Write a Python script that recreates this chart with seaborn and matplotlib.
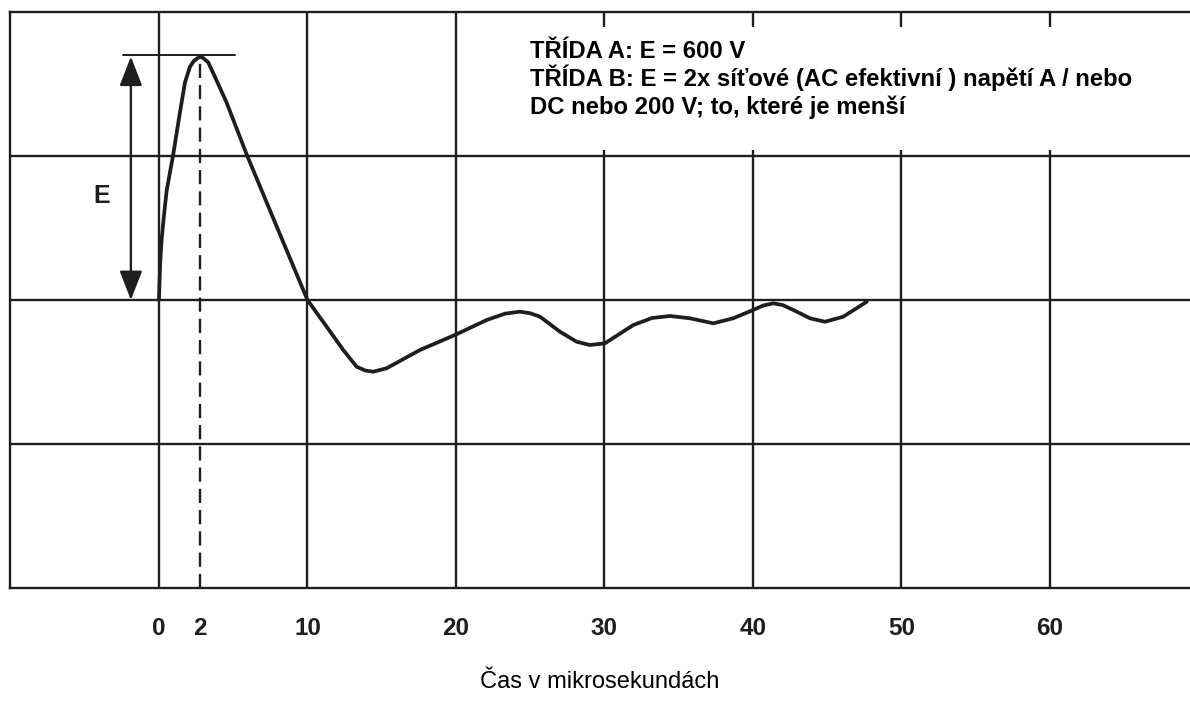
import numpy as np
import pandas as pd
import matplotlib
matplotlib.use("Agg")
import matplotlib.pyplot as plt
import seaborn as sns
from matplotlib.patches import Rectangle

# Pulse shape (time in microseconds, amplitude in grid units)
time_us = [0.0, 0.08, 0.18, 0.35, 0.52, 0.96, 1.41, 1.75, 2.09, 2.35, 2.54, 2.76, 2.98,
           3.32, 3.77, 4.56, 5.91, 7.93, 10.0, 11.29, 12.41, 13.31, 13.9, 14.43, 15.33,
           17.58, 19.93, 22.07, 23.3, 24.31, 25.0, 25.66, 27.0, 28.13, 29.02, 30.03,
           31.94, 33.2, 34.41, 35.76, 37.33, 38.67, 40.02, 40.7, 41.37, 42.0, 42.71,
           43.84, 44.85, 46.08, 47.66]
amplitude = [0.0, 0.25, 0.42, 0.60, 0.76, 1.01, 1.30, 1.51, 1.62, 1.66, 1.675, 1.69, 1.68,
             1.65, 1.55, 1.37, 1.01, 0.51, 0.0, -0.185, -0.347, -0.463, -0.49, -0.498, -0.474,
             -0.347, -0.243, -0.139, -0.095, -0.081, -0.092, -0.116, -0.22, -0.29, -0.3125, -0.301,
             -0.174, -0.125, -0.111, -0.127, -0.162, -0.127, -0.069, -0.038, -0.023, -0.035, -0.069,
             -0.127, -0.151, -0.116, -0.012]

peak_time = 2.76
peak_value = 1.69
tick_pos = [0, peak_time, 10, 20, 30, 40, 50, 60]
tick_labels = ["0", "2", "10", "20", "30", "40", "50", "60"]
grid_x = [0, 10, 20, 30, 40, 50, 60]
grid_y = [-1, 0, 1]

note_lines = ["TŘÍDA A: E = 600 V",
              "TŘÍDA B: E = 2x síťové (AC efektivní ) napětí A / nebo",
              "DC nebo 200 V; to, které je menší"]
xlabel = "Čas v mikrosekundách"

sns.set_style("white")
plt.rcParams["font.family"] = ["Liberation Sans", "DejaVu Sans"]

ink = "#1e1e1e"
df = pd.DataFrame({"t": time_us, "v": amplitude})

fig = plt.figure(figsize=(11.9, 7.08), dpi=100)
ax = fig.add_axes([10 / 1190, 1 - 588 / 708, 1 - 10 / 1190, 576 / 708])

ax.set_xlim(-10.03, 69.43)
ax.set_ylim(-2.0, 2.0)

# grid via minor ticks so the "2" label does not get a line
ax.xaxis.remove_overlapping_locs = False
ax.set_xticks(grid_x, minor=True)
ax.set_yticks(grid_y, minor=True)
ax.grid(which="minor", color=ink, lw=1.7)
ax.grid(which="major", visible=False)
ax.set_yticks([])
ax.set_xticks(tick_pos)
ax.set_xticklabels(tick_labels, fontsize=17.5, fontweight="bold", color=ink,
                   family=["Liberation Sans Narrow", "Liberation Sans"])
ax.tick_params(axis="x", which="both", length=0, pad=21)
ax.tick_params(axis="y", which="both", length=0)

for side in ["left", "top", "bottom"]:
    ax.spines[side].set_color(ink)
    ax.spines[side].set_linewidth(1.7)
ax.spines["right"].set_visible(False)

sns.lineplot(data=df, x="t", y="v", ax=ax, color=ink, lw=2.7, sort=False)
ax.lines[-1].set_solid_joinstyle("round")
ax.lines[-1].set_solid_capstyle("round")

# dashed line under the peak
ax.plot([peak_time, peak_time], [-2.0, peak_value], color=ink, lw=1.7,
        dashes=(6, 3))

# peak marker line and E arrow
ax.plot([-2.42, 5.12], [1.70, 1.70], color=ink, lw=1.4)
ax.annotate("", xy=(-1.89, 0.0), xytext=(-1.89, peak_value),
            arrowprops=dict(arrowstyle="<|-|>,head_length=0.9,head_width=0.35",
                            mutation_scale=20, lw=1.7, color=ink,
                            shrinkA=0, shrinkB=0))
ax.text(-3.84, 0.72, "E", fontsize=18, fontweight="bold", color=ink,
        ha="center", va="center")

# blank area behind the note (grid is interrupted there in the original)
ax.add_patch(Rectangle((21.5, 1.04), 48.5, 0.856, facecolor="white",
                       edgecolor="none", zorder=2))
for i, line in enumerate(note_lines):
    ax.text(25.0, 1.681 - i * 0.196, line, fontsize=17.2, fontweight="bold",
            color="black", ha="left", va="baseline", zorder=3)

ax.set_xlabel(xlabel, fontsize=17, color="black", labelpad=22)
ax.set_ylabel("")

fig.savefig("out.png", dpi=100)
